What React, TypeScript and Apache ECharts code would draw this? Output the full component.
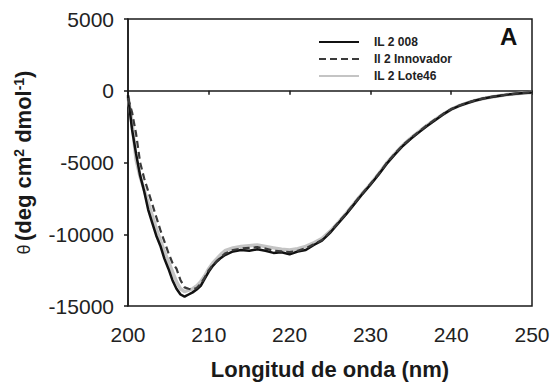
import React, { useEffect, useRef } from "react";
import * as echarts from "echarts";

const wavelength = [
  200, 200.5, 201, 201.5, 202, 202.5, 203, 203.5, 204, 204.5, 205, 205.5, 206, 206.5, 207, 207.5,
  208, 208.5, 209, 209.5, 210, 210.5, 211, 211.5, 212, 213, 214, 215, 216, 217, 218, 219, 220, 221,
  222, 223, 224, 225, 226, 227, 228, 229, 230, 231, 232, 233, 234, 235, 236, 237, 238, 239, 240, 241,
  242, 243, 244, 245, 246, 247, 248, 249, 250,
];

const il2008 = [
  -300, -2700, -4400, -5900, -7000, -8300, -9200, -10100, -10800, -11700, -12400, -13200, -13800,
  -14200, -14350, -14200, -14050, -13850, -13600, -13100, -12600, -12200, -11900, -11650, -11450,
  -11200, -11100, -11150, -11050, -11150, -11300, -11250, -11400, -11200, -11100, -10750, -10450,
  -9900, -9250, -8600, -7900, -7200, -6550, -5850, -5100, -4450, -3850, -3350, -2900, -2450, -2050,
  -1650, -1300, -1050, -850, -680, -540, -440, -350, -270, -210, -160, -120,
];

const il2Innovador = [
  -500, -1500, -3000, -5000, -6100, -7000, -7900, -8800, -9700, -10500, -11300, -12000, -12400,
  -13200, -13700, -13800, -13850, -13750, -13450, -13000, -12500, -12150, -11850, -11600, -11350,
  -11100, -11000, -10950, -10900, -11000, -11150, -11200, -11250, -11150, -10980, -10700, -10400,
  -9850, -9200, -8550, -7850, -7150, -6500, -5800, -5050, -4400, -3800, -3300, -2850, -2400, -2000,
  -1620, -1280, -1030, -830, -660, -530, -420, -340, -260, -200, -150, -110,
];

const il2Lote46 = [
  -400, -2200, -4800, -6000, -6900, -7800, -8700, -9600, -10400, -11200, -11900, -12600, -13300,
  -13800, -14000, -13900, -13800, -13600, -13300, -12900, -12400, -12000, -11700, -11400, -11150,
  -10950, -10850, -10800, -10750, -10850, -10950, -11050, -11100, -11000, -10850, -10600, -10300,
  -9800, -9200, -8550, -7850, -7150, -6500, -5800, -5050, -4400, -3800, -3300, -2850, -2420, -2020,
  -1630, -1290, -1040, -840, -670, -535, -430, -345, -265, -205, -155, -115,
];

const seriesNames = ["IL 2 008", "Il 2 Innovador", "IL 2 Lote46"];
const xTicks = { min: 200, max: 250, interval: 10 };
const yTicks = { min: -15000, max: 5000, interval: 5000 };

const FONT = "'Liberation Sans', Arial, sans-serif";

const pairs = (ys: number[]) => wavelength.map((x, i) => [x, ys[i]]);

export default function App() {
  const ref = useRef<HTMLDivElement>(null);

  useEffect(() => {
    if (!ref.current) return;
    const chart = echarts.init(ref.current, undefined, { renderer: "svg" });
    chart.setOption({
      animation: false,
      backgroundColor: "#ffffff",
      textStyle: { fontFamily: FONT },
      grid: {
        left: 128,
        top: 19,
        right: 22,
        bottom: 75,
        show: true,
        borderColor: "#1a1a1a",
        borderWidth: 1.5,
      },
      legend: {
        orient: "vertical",
        left: 313,
        top: 31,
        itemWidth: 40,
        itemHeight: 12,
        itemGap: 5,
        itemStyle: { opacity: 0 },
        textStyle: {
          fontFamily: FONT,
          fontSize: 12,
          fontWeight: "bold",
          color: "#222",
          padding: [0, 0, 0, 10],
        },
        data: seriesNames,
      },
      xAxis: {
        type: "value",
        min: xTicks.min,
        max: xTicks.max,
        interval: xTicks.interval,
        name: "Longitud de onda (nm)",
        nameLocation: "middle",
        nameGap: 52,
        nameTextStyle: { fontFamily: FONT, fontSize: 22, fontWeight: "bold", color: "#1a1a1a" },
        axisLine: { lineStyle: { color: "#1a1a1a", width: 1.5 } },
        axisTick: { show: true, inside: false, length: 4, lineStyle: { color: "#1a1a1a", width: 1.5 } },
        axisLabel: { fontFamily: FONT, fontSize: 21, color: "#222", margin: 18 },
        splitLine: { show: false },
      },
      yAxis: {
        type: "value",
        min: yTicks.min,
        max: yTicks.max,
        interval: yTicks.interval,
        name: "{t|\u03b8} {b|(deg cm}{s|2}{b| dmol}{s|-1}{b|)}",
        nameLocation: "middle",
        nameGap: 93,
        nameRotate: 90,
        nameTextStyle: {
          rich: {
            t: { fontFamily: FONT, fontSize: 18, color: "#222" },
            b: { fontFamily: FONT, fontSize: 22, fontWeight: "bold", color: "#1a1a1a" },
            s: {
              fontFamily: FONT,
              fontSize: 14,
              fontWeight: "bold",
              color: "#1a1a1a",
              verticalAlign: "top",
              padding: [0, 0, 9, 0],
            },
          },
        },
        axisLine: { show: true, lineStyle: { color: "#1a1a1a", width: 1.5 } },
        axisTick: { show: true, inside: false, length: 4, lineStyle: { color: "#1a1a1a", width: 1.5 } },
        axisLabel: {
          fontFamily: FONT,
          fontSize: 21,
          color: "#222",
          margin: 14,
          formatter: (v: number) => String(v),
        },
        splitLine: { show: false },
      },
      graphic: [
        {
          type: "text",
          left: 500,
          top: 24,
          style: { text: "A", font: `bold 24px ${FONT}`, fill: "#111" },
        },
      ],
      series: [
        {
          name: seriesNames[2],
          type: "line",
          showSymbol: false,
          symbol: "none",
          z: 2,
          data: pairs(il2Lote46),
          lineStyle: { color: "#c4c4c4", width: 3.5 },
          itemStyle: { color: "#c4c4c4" },
        },
        {
          name: seriesNames[0],
          type: "line",
          showSymbol: false,
          symbol: "none",
          z: 3,
          data: pairs(il2008),
          lineStyle: { color: "#111111", width: 2.5 },
          itemStyle: { color: "#111111" },
        },
        {
          name: seriesNames[1],
          type: "line",
          showSymbol: false,
          symbol: "none",
          z: 4,
          data: pairs(il2Innovador),
          lineStyle: { color: "#3a3a3a", width: 2.2, type: [7, 4] },
          itemStyle: { color: "#3a3a3a" },
        },
      ],
    });
    return () => chart.dispose();
  }, []);

  return (
    <div
      ref={ref}
      style={{ position: "absolute", left: 0, top: 0, width: 554, height: 385, background: "#fff" }}
    />
  );
}
